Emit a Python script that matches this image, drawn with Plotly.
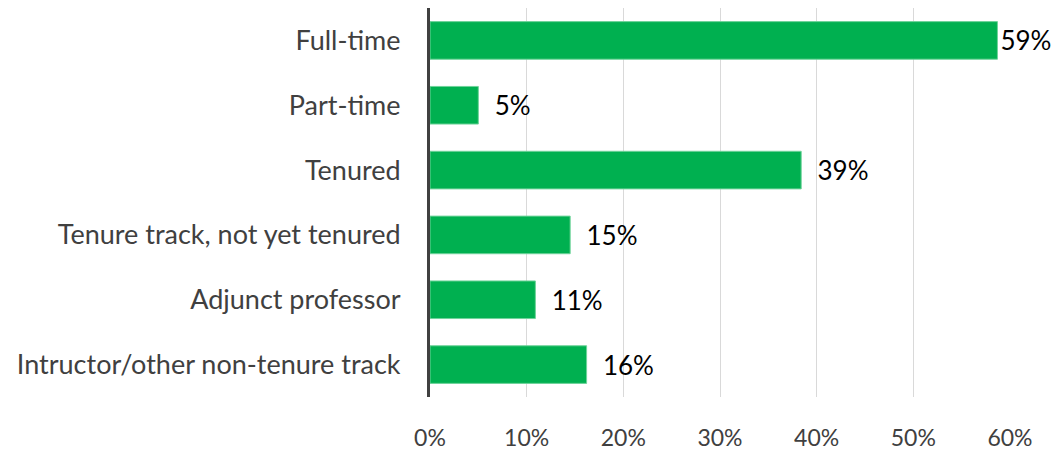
import plotly.graph_objects as go

categories = ["Full-time", "Part-time", "Tenured", "Tenure track, not yet tenured",
              "Adjunct professor", "Intructor/other non-tenure track"]
values = [58.7, 5.0, 38.4, 14.5, 10.9, 16.2]
labels = ["59%", "5%", "39%", "15%", "11%", "16%"]
tick_vals = [0, 10, 20, 30, 40, 50, 60]
tick_text = ["0%", "10%", "20%", "30%", "40%", "50%", "60%"]

FONT = "Lato"
pad = [""] + ["\u00a0\u00a0"] * 5

fig = go.Figure(go.Bar(
    y=categories, x=values, orientation="h",
    marker=dict(color="#00B050", line=dict(color="#6fd39a", width=1)),
    text=[p + l for p, l in zip(pad, labels)],
    textposition="outside", constraintext="none", cliponaxis=False,
    textfont=dict(family=FONT, size=26, color="#000000"),
    width=0.58,
))

fig.update_layout(
    width=1052, height=443,
    margin=dict(l=422, r=50, t=0, b=54),
    paper_bgcolor="white", plot_bgcolor="white",
    showlegend=False,
    font=dict(family=FONT, size=22, color="#404040"),
    xaxis=dict(range=[0, 60], tickvals=tick_vals, ticktext=tick_text,
               showgrid=True, gridcolor="#d9d9d9", gridwidth=1,
               zeroline=False, showline=False, ticks="", ticklabelstandoff=25,
               tickfont=dict(family=FONT, size=23, color="#404040")),
    yaxis=dict(autorange="reversed", showgrid=False, zeroline=False,
               showline=True, linecolor="#404040", linewidth=3,
               ticks="", ticklabelstandoff=21,
               tickfont=dict(family=FONT, size=27, color="#404040")),
)

fig.write_html("out.html")
